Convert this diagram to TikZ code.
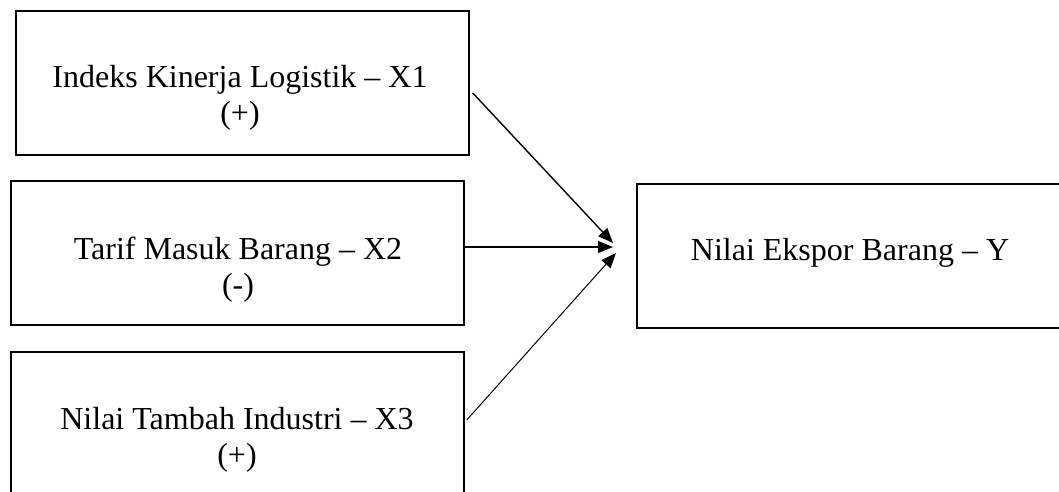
\documentclass[tikz,border=0pt]{standalone}
\usepackage{fontspec}
\setmainfont{Liberation Serif}
\usetikzlibrary{arrows.meta,calc}
\begin{document}
\begin{tikzpicture}[x=1pt,y=-1pt,
  box/.style={draw=black,line width=1.5pt,rectangle,minimum width=453pt,minimum height=144pt,inner sep=0pt},
  lbl/.style={align=center,font=\fontsize{32}{36}\selectfont,inner sep=0pt,anchor=base},
  arr/.style={-{Triangle[length=15pt,width=12pt]},draw=black}]
\useasboundingbox (0,0) rectangle (1059,491);
\clip (0,0) rectangle (1059,491);
\node[box] (b1) at (242.5,83) {};
\node[lbl] (t1) at (240,123) {Indeks Kinerja Logistik – X1\\(+)};
\node[box] (b2) at (237.5,253) {};
\node[lbl] (t2) at (238,295) {Tarif Masuk Barang – X2\\(-)};
\node[box] (b3) at (237.5,424) {};
\node[lbl] (t3) at (237,465) {Nilai Tambah Industri – X3\\(+)};
\node[box,minimum width=426pt] (y) at (850,256) {};
\node[lbl] (ty) at (850,260) {Nilai Ekspor Barang – Y};
\coordinate (s1) at ($(b1.east)+(3,10)$);
\coordinate (s2) at ($(b2.east)+(0,-6)$);
\coordinate (s3) at ($(b3.east)+(2,-4)$);
\coordinate (e1) at (613,243);
\coordinate (e2) at (613,247);
\coordinate (e3) at (616,253);
\draw[arr,line width=1.4pt] (s1) -- (e1);
\draw[arr,line width=1.1pt] (s2) -- (e2);
\draw[arr,line width=1.0pt] (s3) -- (e3);
\end{tikzpicture}
\end{document}
